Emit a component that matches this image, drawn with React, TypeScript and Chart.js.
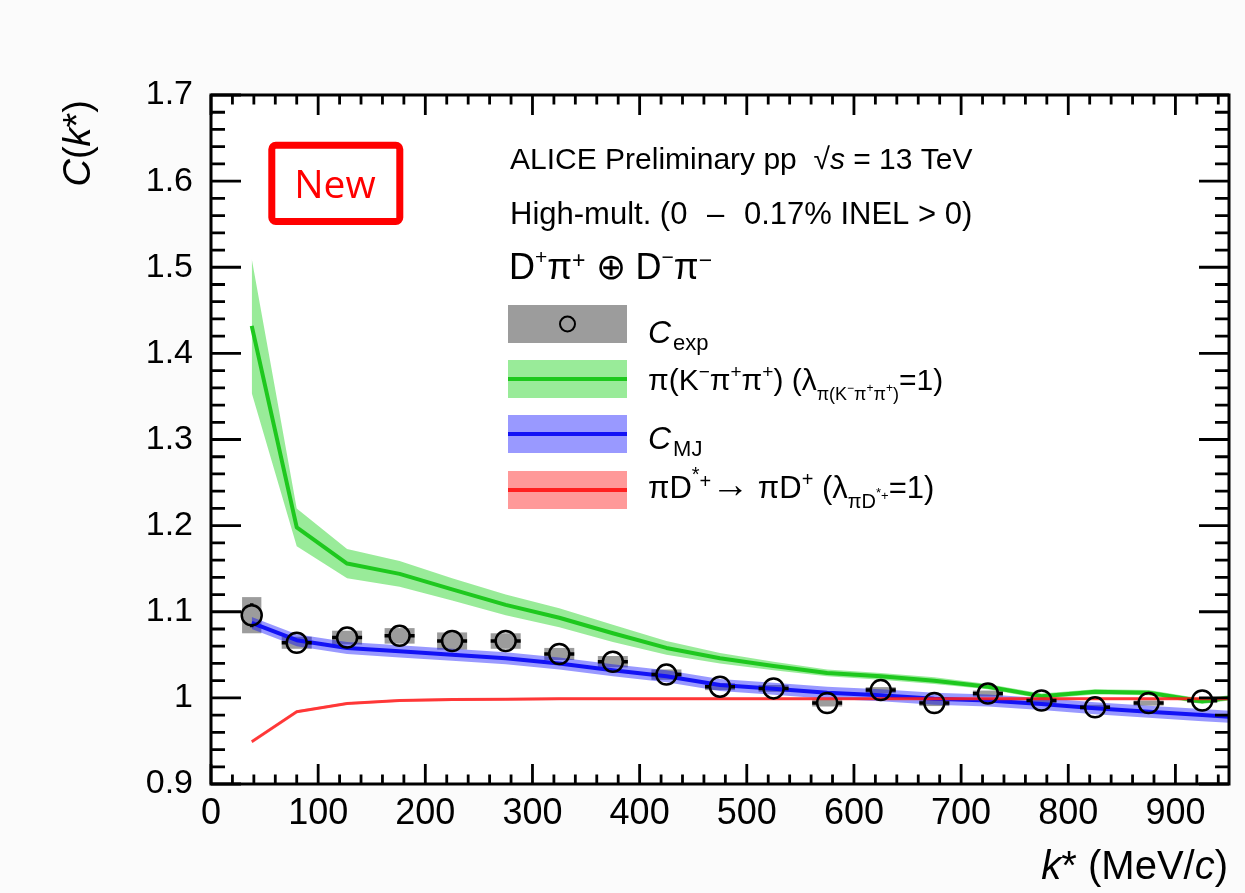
import React, { useEffect, useRef } from 'react';
import { Chart, registerables } from 'chart.js';

Chart.register(...registerables);

// ---------------- data ----------------
const kData = [38, 80, 127, 176, 225, 275, 325, 375, 425, 475, 525, 575, 625, 675, 725, 775, 825, 875, 925];
const cExp = [1.096, 1.064, 1.070, 1.072, 1.066, 1.066, 1.051, 1.042, 1.027, 1.013, 1.011, 0.994, 1.009, 0.994, 1.005, 0.997, 0.989, 0.994, 0.997];
const cStat = [0.014, 0.005, 0.005, 0.005, 0.005, 0.005, 0.005, 0.005, 0.005, 0.005, 0.005, 0.005, 0.005, 0.005, 0.005, 0.005, 0.005, 0.005, 0.005];
const cSys = [0.021, 0.007, 0.008, 0.009, 0.010, 0.009, 0.007, 0.0066, 0.006, 0.004, 0.004, 0.004, 0.0035, 0.0035, 0.0035, 0.003, 0.003, 0.003, 0.003];
const kHalfWidth = [9, 14, 14, 14, 14, 14, 14, 14, 14, 14, 14, 14, 14, 14, 14, 14, 14, 14, 14];

const kModel = [38, 80, 127, 176, 225, 275, 325, 375, 425, 475, 525, 575, 625, 675, 725, 775, 825, 875, 925, 950];
const greenC = [1.432, 1.198, 1.156, 1.144, 1.126, 1.108, 1.093, 1.075, 1.058, 1.046, 1.037, 1.029, 1.025, 1.020, 1.013, 1.002, 1.007, 1.006, 0.996, 1.000];
const greenErr = [0.078, 0.022, 0.017, 0.015, 0.013, 0.012, 0.011, 0.010, 0.008, 0.006, 0.005, 0.004, 0.004, 0.004, 0.003, 0.003, 0.003, 0.003, 0.003, 0.003];
const blueC = [1.087, 1.067, 1.058, 1.054, 1.050, 1.046, 1.040, 1.032, 1.025, 1.015, 1.0105, 1.006, 1.003, 0.999, 0.997, 0.993, 0.988, 0.984, 0.980, 0.978];
const blueErr = [0.007, 0.007, 0.007, 0.007, 0.007, 0.007, 0.007, 0.007, 0.007, 0.007, 0.007, 0.007, 0.007, 0.007, 0.007, 0.007, 0.007, 0.007, 0.007, 0.007];
const redC = [0.949, 0.984, 0.9935, 0.997, 0.998, 0.9985, 0.999, 0.999, 0.999, 0.999, 0.999, 0.999, 0.999, 0.999, 0.999, 0.999, 0.999, 0.999, 0.999, 0.999];
const redErr = [0.0015, 0.0015, 0.0015, 0.0015, 0.0015, 0.0015, 0.0015, 0.0015, 0.0015, 0.0015, 0.0015, 0.0015, 0.0015, 0.0015, 0.0015, 0.0015, 0.0015, 0.0015, 0.0015, 0.0015];

const xTicks = [0, 100, 200, 300, 400, 500, 600, 700, 800, 900];
const yTicks = [0.9, 1.0, 1.1, 1.2, 1.3, 1.4, 1.5, 1.6, 1.7];

// ---------------- styles ----------------
const FONT = '"Liberation Sans", Arial, Helvetica, sans-serif';
const GREEN_BAND = 'rgba(0,204,0,0.4)';
const GREEN_LINE = '#1ec81e';
const BLUE_BAND = 'rgba(0,0,255,0.4)';
const BLUE_LINE = '#1212f5';
const RED_BAND = 'rgba(255,0,0,0.4)';
const RED_LINE = 'rgba(255,30,30,0.8)';
const SYS_GREY = '#9c9c9c';

type Seg = { t: string; size: number; it?: boolean; dy?: number; dx?: number };

function richWidth(ctx: CanvasRenderingContext2D, segs: Seg[]) {
  let w = 0;
  for (const s of segs) {
    ctx.font = `${s.it ? 'italic ' : ''}${s.size}px ${FONT}`;
    w += (s.dx || 0) + ctx.measureText(s.t).width;
  }
  return w;
}

function drawRich(ctx: CanvasRenderingContext2D, x: number, y: number, segs: Seg[]) {
  let cx = x;
  ctx.textAlign = 'left';
  ctx.textBaseline = 'alphabetic';
  for (const s of segs) {
    ctx.font = `${s.it ? 'italic ' : ''}${s.size}px ${FONT}`;
    cx += s.dx || 0;
    ctx.fillText(s.t, cx, y + (s.dy || 0));
    cx += ctx.measureText(s.t).width;
  }
  return cx - x;
}

const pts = (xs: number[], ys: number[], err?: number[], sign = 0) =>
  xs.map((x, i) => ({ x, y: ys[i] + (err ? sign * err[i] : 0) }));

const decor = {
  id: 'decor',
  beforeDraw(chart: any) {
    const { ctx, chartArea: a } = chart;
    ctx.save();
    ctx.fillStyle = '#fbfbfb';
    ctx.fillRect(0, 0, chart.width, chart.height);
    ctx.fillStyle = '#ffffff';
    ctx.fillRect(a.left, a.top, a.right - a.left, a.bottom - a.top);
    ctx.restore();
  },
  beforeDatasetsDraw(chart: any) {
    const { ctx } = chart;
    const xs = chart.scales.x;
    const ys = chart.scales.y;
    ctx.save();
    ctx.fillStyle = SYS_GREY;
    kData.forEach((k, i) => {
      const x0 = xs.getPixelForValue(k - kHalfWidth[i]);
      const x1 = xs.getPixelForValue(k + kHalfWidth[i]);
      const y0 = ys.getPixelForValue(cExp[i] + cSys[i]);
      const y1 = ys.getPixelForValue(cExp[i] - cSys[i]);
      ctx.fillRect(x0, y0, x1 - x0, y1 - y0);
    });
    ctx.restore();
  },
  afterDatasetsDraw(chart: any) {
    const { ctx } = chart;
    const xs = chart.scales.x;
    const ys = chart.scales.y;
    const r = 10;
    ctx.save();
    ctx.strokeStyle = '#000';
    ctx.lineWidth = 3.5;
    kData.forEach((k, i) => {
      const cx = xs.getPixelForValue(k);
      const cy = ys.getPixelForValue(cExp[i]);
      const xl = xs.getPixelForValue(k - kHalfWidth[i]);
      const xr = xs.getPixelForValue(k + kHalfWidth[i]);
      const yt = ys.getPixelForValue(cExp[i] + cStat[i]);
      const yb = ys.getPixelForValue(cExp[i] - cStat[i]);
      ctx.beginPath();
      if (cx - xl > r) { ctx.moveTo(xl, cy); ctx.lineTo(cx - r, cy); }
      if (xr - cx > r) { ctx.moveTo(cx + r, cy); ctx.lineTo(xr, cy); }
      if (cy - yt > r) { ctx.moveTo(cx, yt); ctx.lineTo(cx, cy - r); }
      if (yb - cy > r) { ctx.moveTo(cx, cy + r); ctx.lineTo(cx, yb); }
      ctx.stroke();
    });
    ctx.restore();
  },
  afterDraw(chart: any) {
    const { ctx, chartArea: a } = chart;
    const xs = chart.scales.x;
    const ys = chart.scales.y;
    ctx.save();
    // frame
    ctx.strokeStyle = '#000';
    ctx.lineWidth = 3;
    ctx.strokeRect(a.left, a.top, a.right - a.left, a.bottom - a.top);
    // ticks
    ctx.lineWidth = 2.8;
    ctx.beginPath();
    for (let v = 0; v <= 950; v += 20) {
      const major = xTicks.includes(v);
      const len = major ? 20 : 9.5;
      const px = xs.getPixelForValue(v);
      ctx.moveTo(px, a.bottom); ctx.lineTo(px, a.bottom - len);
      ctx.moveTo(px, a.top); ctx.lineTo(px, a.top + len);
    }
    for (let j = 0; j <= 40; j++) {
      const v = 0.9 + j * 0.02;
      const major = j % 5 === 0;
      const len = major ? 30 : 14;
      const py = ys.getPixelForValue(v);
      ctx.moveTo(a.left, py); ctx.lineTo(a.left + len, py);
      ctx.moveTo(a.right, py); ctx.lineTo(a.right - len, py);
    }
    ctx.stroke();

    ctx.fillStyle = '#000';
    // axis titles
    const xt: Seg[] = [
      { t: 'k', size: 40, it: true }, { t: '* (MeV/', size: 40 }, { t: 'c', size: 40, it: true }, { t: ')', size: 40 },
    ];
    const xw = richWidth(ctx, xt);
    drawRich(ctx, 1228 - xw, 879, xt);

    const yt: Seg[] = [
      { t: 'C', size: 38, it: true }, { t: '(', size: 38 }, { t: 'k', size: 38, it: true }, { t: '*', size: 38 }, { t: ')', size: 38 },
    ];
    const yw = richWidth(ctx, yt);
    ctx.save();
    ctx.translate(90, 100);
    ctx.rotate(-Math.PI / 2);
    drawRich(ctx, -yw, 0, yt);
    ctx.restore();

    // header text
    drawRich(ctx, 510, 169, [
      { t: 'ALICE Preliminary pp  ', size: 30 }, { t: '√', size: 30 }, { t: 's', size: 30, it: true }, { t: ' = 13 TeV', size: 30 },
    ]);
    drawRich(ctx, 510, 224, [
      { t: 'High-mult. (0 ', size: 31 }, { t: '–', size: 31, dx: 11 }, { t: ' 0.17% INEL > 0)', size: 31, dx: 11 },
    ]);
    drawRich(ctx, 509, 279, [
      { t: 'D', size: 36 }, { t: '+', size: 21, dy: -15 }, { t: 'π', size: 36 }, { t: '+', size: 23, dy: -11 },
      { t: ' ⊕ D', size: 36 }, { t: '−', size: 21, dy: -15 }, { t: 'π', size: 36 }, { t: '−', size: 23, dy: -11 },
    ]);

    // legend
    const bx = 508, bw = 119, bh = 38;
    const rows = [
      { cy: 324, band: SYS_GREY, line: null as string | null, base: 343 },
      { cy: 379, band: GREEN_BAND, line: GREEN_LINE, base: 390 },
      { cy: 434, band: BLUE_BAND, line: BLUE_LINE, base: 449 },
      { cy: 490, band: RED_BAND, line: '#ff2020', base: 498 },
    ];
    rows.forEach((r) => {
      ctx.fillStyle = r.band;
      ctx.fillRect(bx, r.cy - bh / 2, bw, bh);
      if (r.line) {
        ctx.strokeStyle = r.line;
        ctx.lineWidth = 4;
        ctx.beginPath();
        ctx.moveTo(bx, r.cy); ctx.lineTo(bx + bw, r.cy);
        ctx.stroke();
      }
    });
    ctx.strokeStyle = '#000';
    ctx.lineWidth = 2;
    ctx.beginPath();
    ctx.arc(bx + bw / 2, rows[0].cy, 7.5, 0, Math.PI * 2);
    ctx.stroke();

    ctx.fillStyle = '#000';
    const tx = 648;
    drawRich(ctx, tx, rows[0].base, [{ t: 'C', size: 32, it: true }, { t: 'exp', size: 22, dy: 7, dx: 2 }]);
    drawRich(ctx, tx, rows[1].base, [
      { t: 'π(K', size: 30 }, { t: '−', size: 19, dy: -12 }, { t: 'π', size: 30 }, { t: '+', size: 19, dy: -12 },
      { t: 'π', size: 30 }, { t: '+', size: 19, dy: -12 }, { t: ') (λ', size: 30 },
      { t: 'π(K', size: 18, dy: 10 }, { t: '−', size: 12, dy: 2 }, { t: 'π', size: 18, dy: 10 }, { t: '+', size: 12, dy: 2 },
      { t: 'π', size: 18, dy: 10 }, { t: '+', size: 12, dy: 2 }, { t: ')', size: 18, dy: 10 }, { t: '=1)', size: 30 },
    ]);
    drawRich(ctx, tx, rows[2].base, [{ t: 'C', size: 32, it: true }, { t: 'MJ', size: 22, dy: 7, dx: 2 }]);
    drawRich(ctx, tx, rows[3].base, [
      { t: 'πD', size: 31 }, { t: '*', size: 20, dy: -17 }, { t: '+', size: 20, dy: -10 }, { t: '→', size: 38, dy: -1 }, { t: ' πD', size: 31 },
      { t: '+', size: 20, dy: -12 }, { t: ' (λ', size: 31 }, { t: 'πD', size: 20, dy: 10 }, { t: '*', size: 13, dy: -1 },
      { t: '+', size: 13, dy: 2 }, { t: '=1)', size: 31 },
    ]);

    // "New" box
    ctx.strokeStyle = '#ff0000';
    ctx.lineWidth = 7;
    ctx.beginPath();
    if ((ctx as any).roundRect) (ctx as any).roundRect(271.8, 145.2, 128, 76.3, 4);
    else ctx.rect(271.8, 145.2, 128, 76.3);
    ctx.stroke();
    ctx.fillStyle = '#ff0000';
    ctx.font = `39px "Open Sans", "DejaVu Sans", sans-serif`;
    ctx.textAlign = 'center';
    ctx.textBaseline = 'alphabetic';
    ctx.fillText('New', 335, 198);
    ctx.restore();
  },
};

export default function App() {
  const ref = useRef<HTMLCanvasElement>(null);
  useEffect(() => {
    const canvas = ref.current;
    if (!canvas) return;
    const band = (color: string) => ({
      type: 'line' as const, showLine: true, borderWidth: 0, pointRadius: 0, tension: 0,
      backgroundColor: color, borderColor: 'rgba(0,0,0,0)',
    });
    const line = (color: string, w: number) => ({
      type: 'line' as const, showLine: true, borderWidth: w, pointRadius: 0, tension: 0,
      borderColor: color, fill: false, borderJoinStyle: 'round' as const,
    });
    const chart = new Chart(canvas, {
      type: 'scatter',
      data: {
        datasets: [
          {
            label: 'Cexp', data: pts(kData, cExp), pointStyle: 'circle', pointRadius: 10,
            pointBorderWidth: 2.5, pointBorderColor: '#000', pointBackgroundColor: 'rgba(0,0,0,0)', showLine: false,
          } as any,
          { label: 'red', data: pts(kModel, redC), ...line(RED_LINE, 3) },
          { label: 'redUp', data: pts(kModel, redC, redErr, 1), ...band(RED_BAND), fill: '+1' },
          { label: 'redLo', data: pts(kModel, redC, redErr, -1), ...band(RED_BAND), fill: false },
          { label: 'blue', data: pts(kModel, blueC), ...line(BLUE_LINE, 4) },
          { label: 'blueUp', data: pts(kModel, blueC, blueErr, 1), ...band(BLUE_BAND), fill: '+1' },
          { label: 'blueLo', data: pts(kModel, blueC, blueErr, -1), ...band(BLUE_BAND), fill: false },
          { label: 'green', data: pts(kModel, greenC), ...line(GREEN_LINE, 4) },
          { label: 'greenUp', data: pts(kModel, greenC, greenErr, 1), ...band(GREEN_BAND), fill: '+1' },
          { label: 'greenLo', data: pts(kModel, greenC, greenErr, -1), ...band(GREEN_BAND), fill: false },
        ] as any,
      },
      options: {
        animation: false,
        responsive: false,
        devicePixelRatio: 1,
        events: [],
        layout: { padding: { top: 95, right: 16, left: 0, bottom: 0 } },
        plugins: { legend: { display: false }, tooltip: { enabled: false } },
        scales: {
          x: {
            type: 'linear', min: 0, max: 950,
            grid: { display: false, drawTicks: false },
            border: { display: false },
            ticks: { color: '#000', font: { size: 36, family: FONT }, padding: 8, maxRotation: 0, autoSkip: false },
            afterBuildTicks: (s: any) => { s.ticks = xTicks.map((v) => ({ value: v })); },
            afterFit: (s: any) => { s.height = 109; },
          },
          y: {
            type: 'linear', min: 0.9, max: 1.7,
            grid: { display: false, drawTicks: false },
            border: { display: false },
            ticks: {
              color: '#000', font: { size: 34, family: FONT }, padding: 18, autoSkip: false,
              callback: (v: any) => Number(v).toFixed(1).replace(/\.0$/, ''),
            },
            afterBuildTicks: (s: any) => { s.ticks = yTicks.map((v) => ({ value: v })); },
            afterFit: (s: any) => { s.width = 211; },
          },
        },
      } as any,
      plugins: [decor],
    });
    return () => chart.destroy();
  }, []);
  return (
    <div style={{ position: 'fixed', left: 0, top: 0, width: 1245, height: 893, background: '#fbfbfb' }}>
      <canvas ref={ref} width={1245} height={893} style={{ display: 'block', width: 1245, height: 893 }} />
    </div>
  );
}
